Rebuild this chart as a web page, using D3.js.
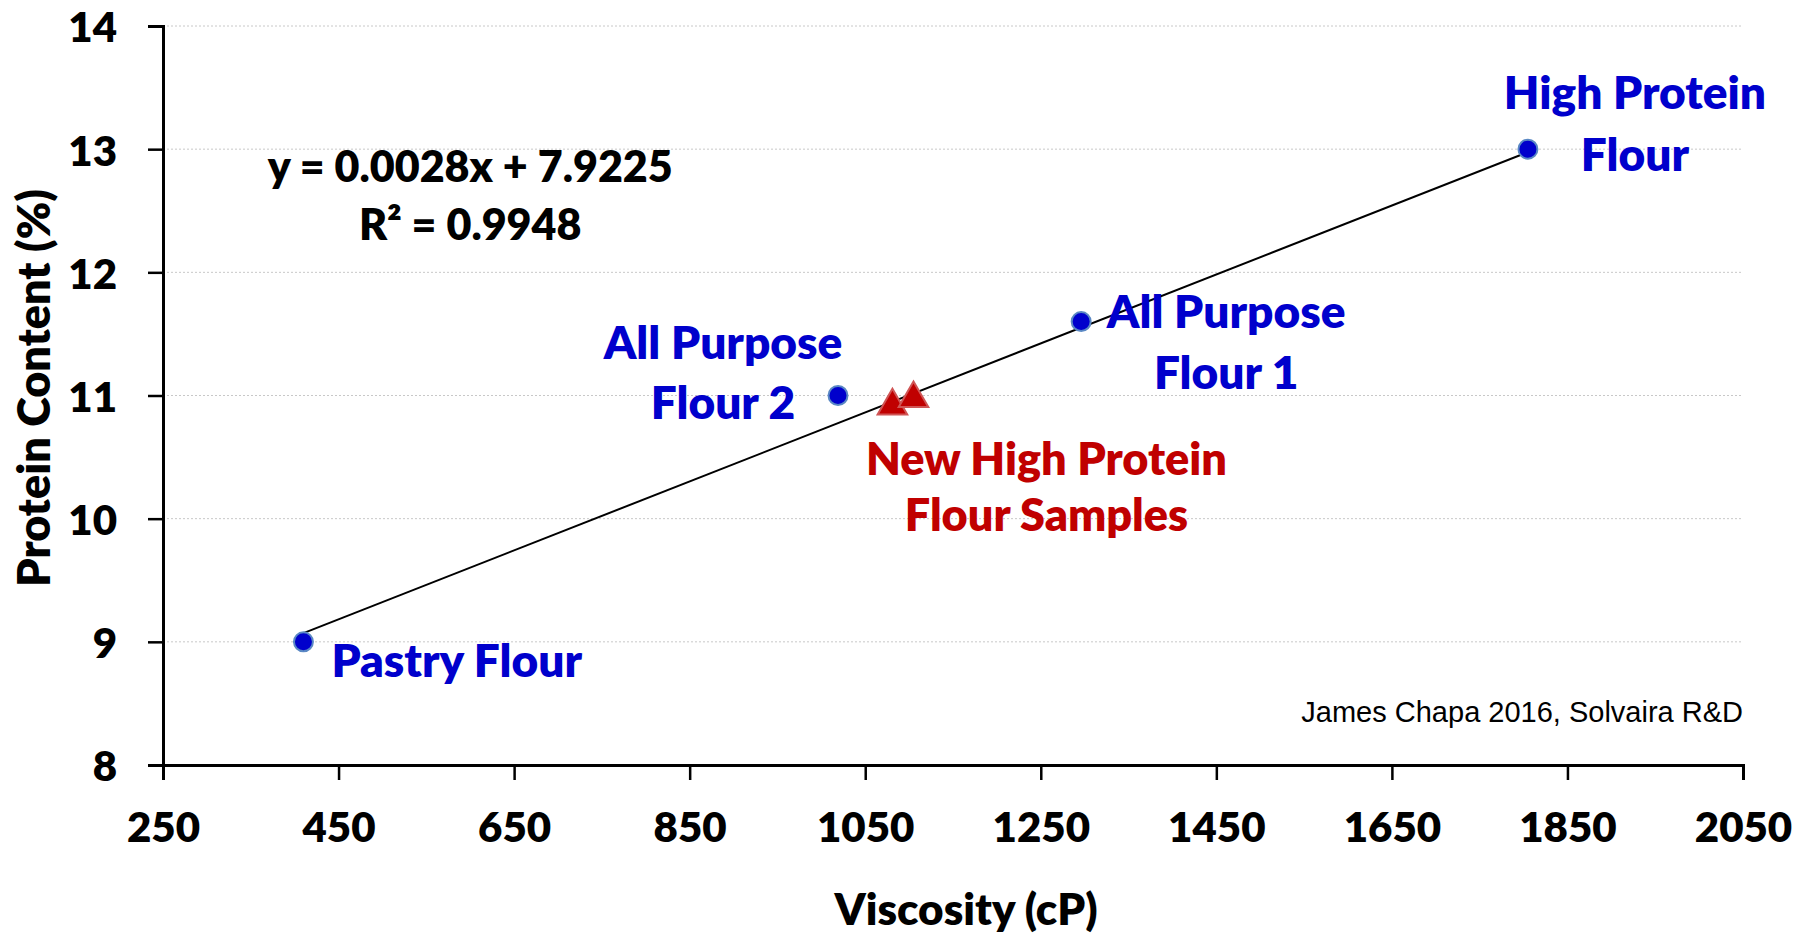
<!DOCTYPE html>
<meta charset="utf-8">

<!-- Load d3.js -->
<script src="https://d3js.org/d3.v7.min.js"></script>

<style>
  body { margin: 0; background: #fff; }
  text { font-family: Lato, "Open Sans", sans-serif; font-weight: 800; }
</style>

<!-- Create a div where the graph will take place -->
<div id="my_dataviz"></div>

<script>

// ---- data ----
var flourNames   = ["Pastry Flour", "All Purpose Flour 2", "All Purpose Flour 1", "High Protein Flour"];
var flourVisc    = [410, 1019, 1296, 1805];
var flourProtein = [9.0, 11.0, 11.6, 13.0];

var sampleVisc    = [1081, 1105];
var sampleProtein = [10.95, 11.01];

var xTicks = [250, 450, 650, 850, 1050, 1250, 1450, 1650, 1850, 2050];
var yTicks = [8, 9, 10, 11, 12, 13, 14];

// trendline from the equation shown on the chart
var slope = 0.0028, intercept = 7.9225, rSquared = 0.9948;

// set the dimensions and margins of the graph
var W = 1811, H = 938;
var margin = {top: 26, right: 68, bottom: 173, left: 163},
    width = W - margin.left - margin.right,
    height = H - margin.top - margin.bottom;

var svg = d3.select("#my_dataviz")
  .append("svg")
    .attr("width", W)
    .attr("height", H)
  .append("g")
    .attr("transform", "translate(" + margin.left + "," + margin.top + ")");

var x = d3.scaleLinear().domain([250, 2050]).range([0, width]);
var y = d3.scaleLinear().domain([8, 14]).range([height, 0]);

// horizontal dotted gridlines
svg.append("g")
  .selectAll("line")
  .data(yTicks.filter(function(d) { return d > 8; }))
  .enter()
  .append("line")
    .attr("x1", 0)
    .attr("x2", width)
    .attr("y1", function(d) { return y(d); })
    .attr("y2", function(d) { return y(d); })
    .attr("stroke", "#c8c8c8")
    .attr("stroke-width", 1)
    .attr("stroke-dasharray", "2,2");

// X axis
var xAxis = svg.append("g")
  .attr("transform", "translate(0," + height + ")")
  .call(d3.axisBottom(x).tickValues(xTicks).tickSize(15).tickFormat(d3.format("d")));

// Y axis
var yAxis = svg.append("g")
  .call(d3.axisLeft(y).tickValues(yTicks).tickSize(15).tickPadding(31).tickFormat(d3.format("d")));

[xAxis, yAxis].forEach(function(ax) {
  ax.select(".domain").attr("stroke", "#000").attr("stroke-width", 3);
  ax.selectAll(".tick line").attr("stroke", "#000").attr("stroke-width", 2.5);
  ax.selectAll(".tick text")
    .attr("fill", "#000")
    .style("font-family", "Lato, sans-serif")
    .style("font-weight", "800")
    .style("font-size", "42px");
});
// baseline of the x labels sits 77px under the axis
xAxis.selectAll(".tick text").attr("y", 77).attr("dy", 0);
yAxis.selectAll(".tick text").attr("dy", "0.38em");

// axis titles
svg.append("text")
  .attr("x", 803)
  .attr("y", 899)
  .attr("text-anchor", "middle")
  .style("font-size", "44px")
  .attr("fill", "#000")
  .text("Viscosity (cP)");

svg.append("text")
  .attr("transform", "rotate(-90)")
  .attr("x", -(388 - margin.top))
  .attr("y", 50 - margin.left)
  .attr("text-anchor", "middle")
  .style("font-size", "45px")
  .attr("fill", "#000")
  .text("Protein Content (%)");

// trendline over the range of the reference flours
var xMin = d3.min(flourVisc), xMax = d3.max(flourVisc);
svg.append("line")
  .attr("x1", x(xMin))
  .attr("y1", y(slope * xMin + intercept))
  .attr("x2", x(xMax))
  .attr("y2", y(slope * xMax + intercept))
  .attr("stroke", "#000")
  .attr("stroke-width", 2);

// equation text
var eq = svg.append("text")
  .attr("text-anchor", "middle")
  .style("font-size", "43px")
  .attr("fill", "#000");
eq.append("tspan")
  .attr("x", x(600))
  .attr("y", y(12.73))
  .text("y = " + slope + "x + " + intercept);
eq.append("tspan")
  .attr("x", x(600))
  .attr("dy", 58)
  .text("R\u00B2 = " + rSquared);

// reference flour points
var flours = flourNames.map(function(n, i) {
  return {name: n, visc: flourVisc[i], protein: flourProtein[i]};
});

svg.append("g")
  .selectAll("circle")
  .data(flours)
  .enter()
  .append("circle")
    .attr("cx", function(d) { return x(d.visc); })
    .attr("cy", function(d) { return y(d.protein); })
    .attr("r", 9.5)
    .attr("fill", "#0000cc")
    .attr("stroke", "#5a88c4")
    .attr("stroke-width", 2);

// new sample triangles
var triSize = 380;
var triH = 3 * Math.sqrt(triSize / (3 * Math.sqrt(3)));
svg.append("g")
  .selectAll("path")
  .data(sampleVisc.map(function(v, i) { return {visc: v, protein: sampleProtein[i]}; }))
  .enter()
  .append("path")
    .attr("d", d3.symbol().type(d3.symbolTriangle).size(triSize))
    .attr("transform", function(d) {
      return "translate(" + x(d.visc) + "," + (y(d.protein) + triH / 6) + ")";
    })
    .attr("fill", "#c00000")
    .attr("stroke", "#d05555")
    .attr("stroke-width", 2);

// labels, offsets in pixels from their point
var labelOffsets = [
  {lines: ["Pastry Flour"], dx: 28, dy: [35], anchor: "start"},
  {lines: ["All Purpose", "Flour 2"], dx: -115, dy: [-37, 23], anchor: "middle"},
  {lines: ["All Purpose", "Flour 1"], dx: 145, dy: [6, 67], anchor: "middle"},
  {lines: ["High Protein", "Flour"], dx: 107, dy: [-40, 22], anchor: "middle"}
];

flours.forEach(function(d, i) {
  var lab = labelOffsets[i];
  var t = svg.append("text")
    .attr("text-anchor", lab.anchor)
    .style("font-size", "46px")
    .attr("fill", "#0000cc");
  lab.lines.forEach(function(s, j) {
    t.append("tspan")
      .attr("x", x(d.visc) + lab.dx)
      .attr("y", y(d.protein) + lab.dy[j])
      .text(s);
  });
});

var sampleLabel = svg.append("text")
  .attr("text-anchor", "middle")
  .style("font-size", "45px")
  .attr("fill", "#c00000");
["New High Protein", "Flour Samples"].forEach(function(s, j) {
  sampleLabel.append("tspan")
    .attr("x", x(sampleVisc[0]) + 154)
    .attr("y", y(sampleProtein[0]) + [73, 129][j])
    .text(s);
});

// source note
svg.append("text")
  .attr("x", width)
  .attr("y", 722 - margin.top)
  .attr("text-anchor", "end")
  .style("font-family", "'Liberation Sans', Arial, sans-serif")
  .style("font-weight", "normal")
  .style("font-size", "29px")
  .attr("fill", "#000")
  .text("James Chapa 2016, Solvaira R&D");

</script>
